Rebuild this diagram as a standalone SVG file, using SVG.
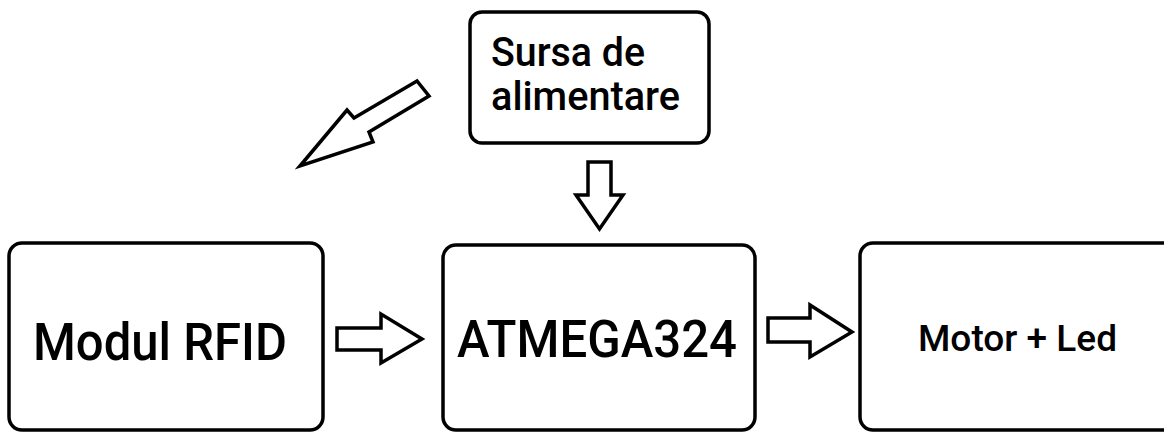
<svg xmlns="http://www.w3.org/2000/svg" width="1164" height="432" viewBox="0 0 1164 432">
<style>
.box{fill:#fff;stroke:#000;stroke-width:3.5}
.arr{fill:#fff;stroke:#000;stroke-width:3.5;stroke-linejoin:miter}
.t{font-family:Roboto,"Liberation Sans",sans-serif;font-weight:500;fill:#000}
</style>
<rect width="1164" height="432" fill="#fff"/>
<g id="connectors">
<polygon class="arr" points="300,166 347,110 354,118 417,81 429,96 369,132 373,142"/>
<polygon class="arr" points="588,162 611,162 611,195 623,195 599.5,229 576,195 588,195"/>
<polygon class="arr" points="337,328 381,328 381,314 422,339 381,363 381,350 337,350"/>
<polygon class="arr" points="768,318 810,318 810,305 852,332 810,357 810,342 768,342"/>
</g>
<g id="sursa">
<rect class="box" x="470" y="12" width="239" height="131" rx="12"/>
<text class="t" x="491" y="66" font-size="40" textLength="154" lengthAdjust="spacingAndGlyphs">Sursa de</text>
<text class="t" x="491" y="110" font-size="40" textLength="189" lengthAdjust="spacingAndGlyphs">alimentare</text>
</g>
<g id="rfid">
<rect class="box" x="9" y="243" width="314" height="187" rx="13"/>
<text class="t" x="33" y="360" font-size="51" textLength="254" lengthAdjust="spacingAndGlyphs">Modul RFID</text>
</g>
<g id="atmega">
<rect class="box" x="443" y="245" width="312" height="185" rx="13"/>
<text class="t" x="457" y="357" font-size="51" textLength="280" lengthAdjust="spacingAndGlyphs">ATMEGA324</text>
</g>
<g id="motor">
<rect class="box" x="860" y="243" width="320" height="187" rx="13"/>
<text class="t" x="918" y="351" font-size="36" textLength="199" lengthAdjust="spacingAndGlyphs">Motor + Led</text>
</g>
</svg>
